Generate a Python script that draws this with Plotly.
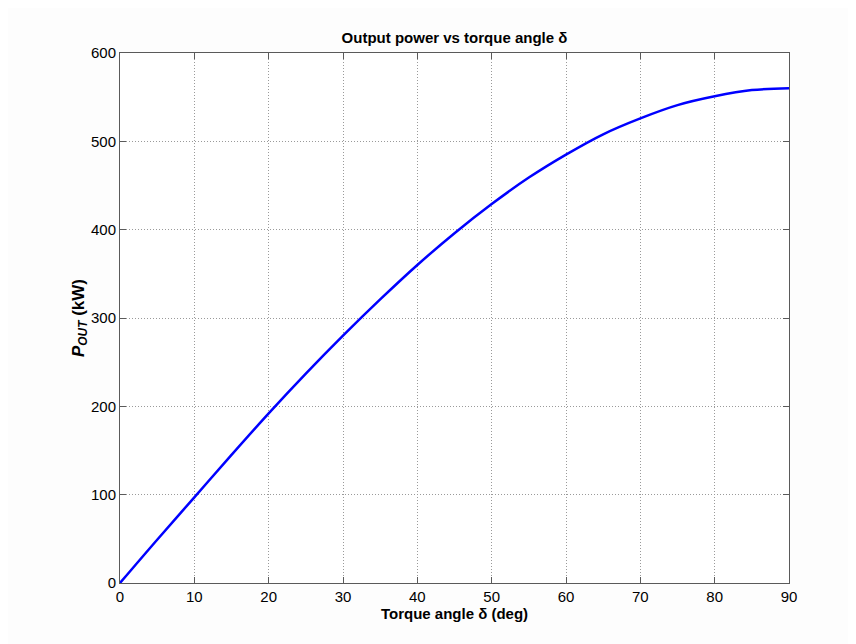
import plotly.graph_objects as go

delta_deg = [0, 5, 10, 15, 20, 25, 30, 35, 40, 45, 50, 55, 60, 65, 70, 75, 80, 85, 90]
p_out_kw = [0, 49, 97, 145, 192, 237, 280, 321, 360, 396, 429, 459, 485, 508, 526, 541, 551, 558, 560]

x_ticks = [0, 10, 20, 30, 40, 50, 60, 70, 80, 90]
y_ticks = [0, 100, 200, 300, 400, 500, 600]

FONT = "Liberation Sans, Arial"

fig = go.Figure()
fig.add_trace(go.Scatter(x=delta_deg, y=p_out_kw, mode="lines",
                         line=dict(color="#0000ff", width=2.5, shape="spline"), showlegend=False))

axis_common = dict(
    showline=True, linecolor="#5a5a5a", linewidth=1, mirror="ticks",
    ticks="inside", ticklen=6, tickcolor="#5a5a5a",
    showgrid=True, gridcolor="#9a9a9a", griddash="1px,2px", gridwidth=1,
    zeroline=False,
    tickfont=dict(family=FONT, size=15, color="#000000"),
)

# page body has 8px offset
fig.update_layout(
    width=856, height=644,
    paper_bgcolor="#fdfdfd", plot_bgcolor="#ffffff",
    margin=dict(l=112, r=75, t=45, b=69),
    title=dict(text="<b>Output power vs torque angle δ</b>", x=(0.5 * (120 + 789) - 8) / 856, xanchor="center",
               y=1 - 30 / 644, yanchor="middle",
               font=dict(family=FONT, size=15, color="#000000")),
    xaxis=dict(range=[0, 90], tickvals=x_ticks,
               title=dict(text="<b>Torque angle δ (deg)</b>", standoff=3,
                          font=dict(family=FONT, size=15, color="#000000")),
               **axis_common),
    yaxis=dict(range=[0, 600], tickvals=y_ticks,
               title=dict(text="<b><i>P</i><sub><i>OUT</i></sub> (kW)</b>", standoff=2,
                          font=dict(family=FONT, size=17, color="#000000")),
               **axis_common),
)

fig.write_html("out.html")
